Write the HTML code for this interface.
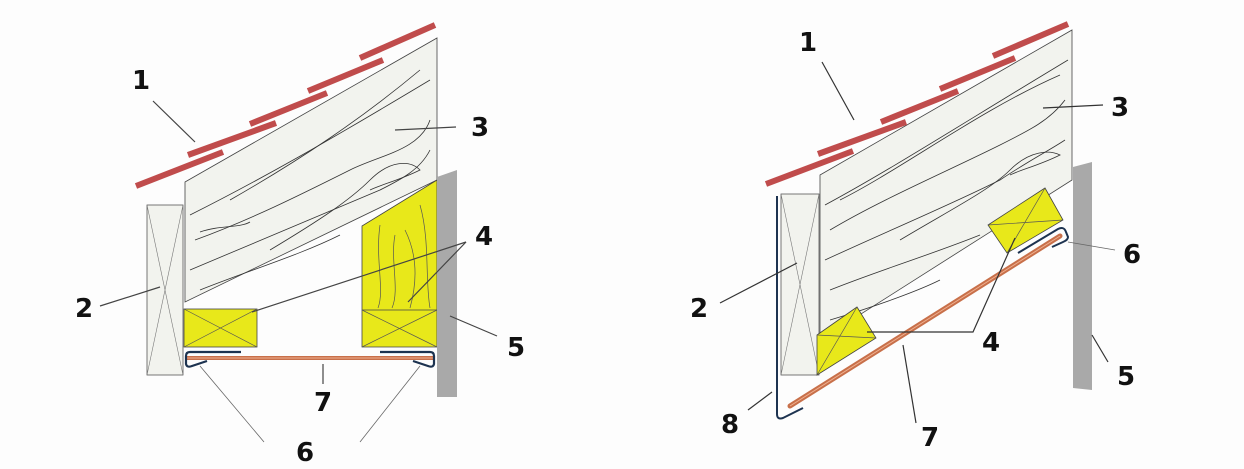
<!DOCTYPE html>
<html><head><meta charset="utf-8"><style>
html,body{margin:0;padding:0;background:#fff;}
svg{display:block;}
text{font-family:"DejaVu Sans","Liberation Sans",sans-serif;font-weight:bold;font-size:26px;fill:#111;}
</style></head><body>
<svg width="1244" height="469" viewBox="0 0 1244 469" xmlns="http://www.w3.org/2000/svg">
<rect width="1244" height="469" fill="#fdfdfd"/>
<!-- LEFT DIAGRAM -->
<polygon points="185,182 437,38 437,180 185,302" fill="#f2f3ee" stroke="#444" stroke-width="0.8"/>
<g fill="none" stroke="#333" stroke-width="0.8">
<path d="M190,215 C260,180 330,140 430,80"/>
<path d="M195,240 C250,220 300,195 350,170 C380,155 420,150 430,120"/>
<path d="M190,270 C260,240 320,215 380,190 C400,180 420,170 430,150"/>
<path d="M200,290 C250,270 300,255 340,235"/>
<path d="M270,250 C320,220 350,200 370,180 C390,160 410,160 420,170 C400,180 380,185 370,190"/>
<path d="M230,200 C300,160 360,120 420,70"/>
<path d="M200,232 C220,225 240,228 250,222"/>
</g>
<g stroke="#c04c4c" stroke-width="6" stroke-linecap="butt">
<line x1="136" y1="186" x2="223" y2="152"/>
<line x1="188" y1="155" x2="276" y2="123"/>
<line x1="250" y1="124" x2="327" y2="93"/>
<line x1="308" y1="91" x2="383" y2="60"/>
<line x1="360" y1="58" x2="435" y2="25"/>
</g>
<rect x="147" y="205" width="36" height="170" fill="#f2f3ee" stroke="#555" stroke-width="0.8"/>
<path d="M147,205 L183,375 M183,205 L147,375" stroke="#777" stroke-width="0.6"/>
<rect x="184" y="309" width="73" height="38" fill="#e8e81a" stroke="#444" stroke-width="0.8"/>
<path d="M184,309 L257,347 M257,309 L184,347" stroke="#555" stroke-width="0.7"/>
<polygon points="362,226 437,180 437,347 362,347" fill="#e8e81a" stroke="#444" stroke-width="0.8"/>
<line x1="362" y1="310" x2="437" y2="310" stroke="#444" stroke-width="0.8"/>
<path d="M362,310 L437,347 M437,310 L362,347" stroke="#555" stroke-width="0.7"/>
<g fill="none" stroke="#555" stroke-width="0.7">
<path d="M380,225 C375,260 385,290 378,308"/>
<path d="M395,235 C390,260 400,290 392,308"/>
<path d="M405,230 C420,260 415,290 410,308"/>
<path d="M420,205 C430,240 425,280 430,308"/>
</g>
<polygon points="437,177 457,170 457,397 437,397" fill="#a9a9a9"/>
<line x1="185" y1="358" x2="433" y2="358" stroke="#c8704a" stroke-width="4"/>
<line x1="185" y1="358" x2="433" y2="358" stroke="#f0b090" stroke-width="1"/>
<path d="M241,352 L190,352 Q186,352 186,356 L186,364 Q187,368 192,366 L207,361" fill="none" stroke="#1d3350" stroke-width="2.2"/>
<path d="M380,352 L430,352 Q434,352 434,356 L434,364 Q433,368 428,366 L413,361" fill="none" stroke="#1d3350" stroke-width="2.2"/>
<g stroke="#444" stroke-width="1.2" fill="none">
<line x1="153" y1="101" x2="195" y2="142"/>
<line x1="395" y1="130" x2="456" y2="127"/>
<line x1="466" y1="242" x2="252" y2="312"/>
<line x1="466" y1="242" x2="408" y2="302"/>
<line x1="100" y1="306" x2="160" y2="287"/>
<line x1="450" y1="316" x2="497" y2="336"/>
<line x1="323" y1="364" x2="323" y2="384"/>
</g>
<g stroke="#666" stroke-width="0.8">
<line x1="200" y1="366" x2="264" y2="442"/>
<line x1="420" y1="366" x2="360" y2="442"/>
</g>
<text x="132" y="89">1</text>
<text x="471" y="136">3</text>
<text x="475" y="245">4</text>
<text x="75" y="317">2</text>
<text x="507" y="356">5</text>
<text x="314" y="411">7</text>
<text x="296" y="461">6</text>

<!-- RIGHT DIAGRAM -->
<polygon points="820,175 1072,30 1072,180 820,340" fill="#f2f3ee" stroke="#444" stroke-width="0.8"/>
<g fill="none" stroke="#333" stroke-width="0.8">
<path d="M825,205 C890,170 960,125 1068,60"/>
<path d="M830,230 C880,200 950,170 1000,145 C1030,130 1050,120 1065,100"/>
<path d="M825,260 C890,230 950,205 1000,180 C1030,160 1050,150 1065,140"/>
<path d="M830,290 C880,270 930,255 980,235"/>
<path d="M900,240 C950,210 990,190 1010,170 C1030,150 1050,150 1060,155 C1040,165 1020,170 1010,175"/>
<path d="M830,320 C880,305 920,290 940,280"/>
<path d="M840,200 C900,170 980,110 1060,75"/>
</g>
<g stroke="#c04c4c" stroke-width="6">
<line x1="766" y1="184" x2="853" y2="151"/>
<line x1="818" y1="154" x2="906" y2="122"/>
<line x1="881" y1="122" x2="958" y2="91"/>
<line x1="940" y1="89" x2="1015" y2="58"/>
<line x1="993" y1="56" x2="1068" y2="24"/>
</g>
<rect x="781" y="194" width="38" height="181" fill="#f2f3ee" stroke="#555" stroke-width="0.8"/>
<path d="M781,194 L819,375 M819,194 L781,375" stroke="#777" stroke-width="0.6"/>
<polygon points="817,335 857,307 876,338 817,375" fill="#e8e81a" stroke="#444" stroke-width="0.8"/>
<path d="M817,335 L876,338 M857,307 L817,375" stroke="#555" stroke-width="0.7"/>
<polygon points="988,225 1045,188 1063,220 1007,253" fill="#e8e81a" stroke="#444" stroke-width="0.8"/>
<path d="M988,225 L1063,220 M1045,188 L1007,253" stroke="#555" stroke-width="0.7"/>
<polygon points="1073,167 1092,162 1092,390 1073,388" fill="#a9a9a9"/>
<line x1="790" y1="406" x2="1060" y2="236" stroke="#c8704a" stroke-width="5" stroke-linecap="round"/>
<line x1="790" y1="406" x2="1060" y2="236" stroke="#f0b090" stroke-width="1"/>
<path d="M777,196 L777,414 Q777,420 783,418 L803,408" fill="none" stroke="#1d3350" stroke-width="2"/>
<path d="M1018,253 L1058,229 Q1064,226 1066,232 L1068,237 Q1068,240 1063,242 L1052,247" fill="none" stroke="#1d3350" stroke-width="2"/>
<g stroke="#333" stroke-width="1.2" fill="none">
<line x1="822" y1="62" x2="854" y2="120"/>
<line x1="1043" y1="108" x2="1103" y2="105"/>
<line x1="720" y1="303" x2="797" y2="263"/>
<polyline points="867,332 973,332 1015,238"/>
<line x1="1092" y1="335" x2="1108" y2="362"/>
<line x1="772" y1="392" x2="748" y2="410"/>
<line x1="903" y1="345" x2="916" y2="423"/>
</g>
<line x1="1068" y1="242" x2="1115" y2="250" stroke="#666" stroke-width="0.8"/>
<text x="799" y="51">1</text>
<text x="1111" y="116">3</text>
<text x="1123" y="263">6</text>
<text x="690" y="317">2</text>
<text x="982" y="351">4</text>
<text x="1117" y="385">5</text>
<text x="721" y="433">8</text>
<text x="921" y="446">7</text>
</svg>
</body></html>
